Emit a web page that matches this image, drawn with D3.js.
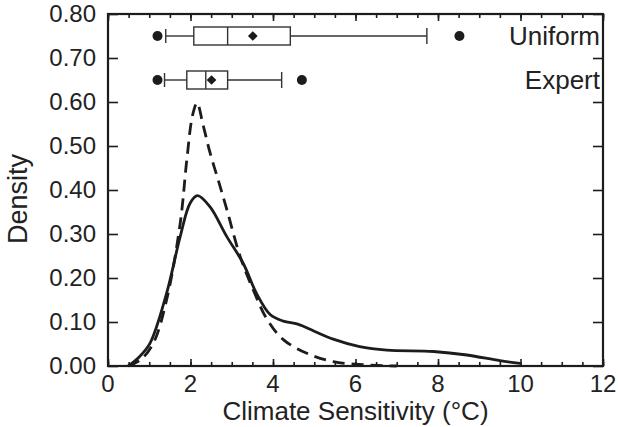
<!DOCTYPE html>
<html lang="en">
<head>
<meta charset="utf-8">
<title>Climate Sensitivity</title>
<style>
  body { margin: 0; background: #fff; }
  svg { display: block; }
  text { font-family: "Liberation Sans", Arial, sans-serif; fill: #222; }
</style>
<script src="https://cdn.jsdelivr.net/npm/d3@7"></script>
</head>
<body>
<script>
// density curves
var uniformX = [0.49, 0.75, 1.02, 1.42, 1.75, 1.99, 2.17, 2.47, 2.88, 3.28, 3.6, 3.93, 4.25, 4.6, 5.0, 5.46, 6.1, 6.76, 7.89, 8.7, 9.5, 9.99];
var uniformY = [0, 0.02, 0.052, 0.165, 0.294, 0.37, 0.387, 0.362, 0.294, 0.233, 0.165, 0.117, 0.102, 0.095, 0.079, 0.061, 0.044, 0.036, 0.033, 0.025, 0.012, 0.006];
var expertX = [0.49, 0.8, 1.1, 1.42, 1.75, 1.91, 2.05, 2.16, 2.3, 2.47, 2.68, 2.88, 3.2, 3.52, 3.85, 4.25, 4.82, 5.46, 6.2, 7.0];
var expertY = [0, 0.015, 0.052, 0.15, 0.324, 0.468, 0.57, 0.598, 0.55, 0.486, 0.42, 0.356, 0.25, 0.173, 0.107, 0.06, 0.029, 0.01, 0.003, 0];

// box plots (Uniform, Expert)
var boxNames = ["Uniform", "Expert"];
var boxRow = [0.75, 0.65];
var boxLow = [1.40, 1.37];
var boxQ1 = [2.08, 1.91];
var boxMed = [2.90, 2.37];
var boxMean = [3.51, 2.51];
var boxQ3 = [4.42, 2.90];
var boxHigh = [7.73, 4.21];
var boxOutLo = [1.20, 1.20];
var boxOutHi = [8.52, 4.70];

var xTicks = [0, 2, 4, 6, 8, 10, 12];
var yTicks = [0, 0.1, 0.2, 0.3, 0.4, 0.5, 0.6, 0.7, 0.8];

var width = 618, height = 427;
var m = {left: 108, right: 15, top: 14, bottom: 61};

var svg = d3.select("body").append("svg")
  .attr("width", width)
  .attr("height", height);

var x = d3.scaleLinear().domain([0, 12]).range([m.left, width - m.right]);
var y = d3.scaleLinear().domain([0, 0.8]).range([height - m.bottom, m.top]);

var ink = "#1c1c1c";

// minor x ticks every 0.5
var minor = d3.range(0, 12.01, 0.5);

function tickStyle(g) {
  g.select(".domain").remove();
  g.selectAll("line").attr("stroke", ink).attr("stroke-width", 1.6);
}

// bottom
svg.append("g")
  .attr("transform", "translate(0," + y(0) + ")")
  .call(d3.axisTop(x).tickValues(minor).tickSize(4).tickFormat(""))
  .call(tickStyle);
svg.append("g")
  .attr("transform", "translate(0," + y(0) + ")")
  .call(d3.axisTop(x).tickValues(xTicks).tickSize(7).tickFormat(""))
  .call(tickStyle);
// top
svg.append("g")
  .attr("transform", "translate(0," + y(0.8) + ")")
  .call(d3.axisBottom(x).tickValues(minor).tickSize(4).tickFormat(""))
  .call(tickStyle);
svg.append("g")
  .attr("transform", "translate(0," + y(0.8) + ")")
  .call(d3.axisBottom(x).tickValues(xTicks).tickSize(7).tickFormat(""))
  .call(tickStyle);
// left / right
svg.append("g")
  .attr("transform", "translate(" + x(0) + ",0)")
  .call(d3.axisRight(y).tickValues(yTicks).tickSize(10).tickFormat(""))
  .call(tickStyle);
svg.append("g")
  .attr("transform", "translate(" + x(12) + ",0)")
  .call(d3.axisLeft(y).tickValues(yTicks).tickSize(10).tickFormat(""))
  .call(tickStyle);

// tick labels
svg.append("g").selectAll("text")
  .data(xTicks).enter().append("text")
  .attr("x", function(d){ return x(d); })
  .attr("y", y(0) + 26)
  .attr("text-anchor", "middle")
  .style("font-size", "24px")
  .text(function(d){ return d; });

svg.append("g").selectAll("text")
  .data(yTicks).enter().append("text")
  .attr("x", x(0) - 12)
  .attr("y", function(d){ return y(d) + 8; })
  .attr("text-anchor", "end")
  .style("font-size", "24px")
  .text(function(d){ return d.toFixed(2); });

// axis titles
svg.append("text")
  .attr("x", (x(0) + x(12)) / 2)
  .attr("y", 420)
  .attr("text-anchor", "middle")
  .style("font-size", "26px")
  .text("Climate Sensitivity (°C)");

svg.append("text")
  .attr("transform", "translate(27,199) rotate(-90)")
  .attr("text-anchor", "middle")
  .style("font-size", "27px")
  .text("Density");

// curves
var line = d3.line()
  .x(function(d){ return x(d[0]); })
  .y(function(d){ return y(d[1]); })
  .curve(d3.curveCatmullRom.alpha(0.5));

svg.append("path")
  .datum(d3.zip(expertX, expertY))
  .attr("d", line)
  .attr("fill", "none")
  .attr("stroke", ink)
  .attr("stroke-width", 2.8)
  .attr("stroke-dasharray", "12,7");

svg.append("path")
  .datum(d3.zip(uniformX, uniformY))
  .attr("d", line)
  .attr("fill", "none")
  .attr("stroke", ink)
  .attr("stroke-width", 2.8);

// box plots
var bh = 18;
boxNames.forEach(function(name, i) {
  var cy = y(boxRow[i]);
  var g = svg.append("g");
  g.append("line")
    .attr("x1", x(boxLow[i])).attr("x2", x(boxQ1[i]))
    .attr("y1", cy).attr("y2", cy);
  g.append("line")
    .attr("x1", x(boxQ3[i])).attr("x2", x(boxHigh[i]))
    .attr("y1", cy).attr("y2", cy);
  g.append("line")
    .attr("x1", x(boxLow[i])).attr("x2", x(boxLow[i]))
    .attr("y1", cy - bh / 2 + 2).attr("y2", cy + bh / 2 - 2);
  g.append("line")
    .attr("x1", x(boxHigh[i])).attr("x2", x(boxHigh[i]))
    .attr("y1", cy - bh / 2 + 1).attr("y2", cy + bh / 2 - 1);
  g.append("rect")
    .attr("x", x(boxQ1[i])).attr("y", cy - bh / 2)
    .attr("width", x(boxQ3[i]) - x(boxQ1[i])).attr("height", bh)
    .attr("fill", "none");
  g.append("line")
    .attr("x1", x(boxMed[i])).attr("x2", x(boxMed[i]))
    .attr("y1", cy - bh / 2).attr("y2", cy + bh / 2);
  g.selectAll("line, rect").attr("stroke", "#333").attr("stroke-width", 1.4);

  g.append("path")
    .attr("d", d3.symbol(d3.symbolDiamond2, 60)())
    .attr("transform", "translate(" + x(boxMean[i]) + "," + cy + ")")
    .attr("fill", ink);

  g.selectAll("circle")
    .data([boxOutLo[i], boxOutHi[i]]).enter().append("circle")
    .attr("cx", function(d){ return x(d); })
    .attr("cy", cy)
    .attr("r", 5)
    .attr("fill", ink);

  g.append("text")
    .attr("x", x(12) - 3)
    .attr("y", cy + 9)
    .attr("text-anchor", "end")
    .style("font-size", "26px")
    .text(name);
});

// frame
svg.append("rect")
  .attr("x", x(0)).attr("y", y(0.8))
  .attr("width", x(12) - x(0)).attr("height", y(0) - y(0.8))
  .attr("fill", "none")
  .attr("stroke", ink)
  .attr("stroke-width", 2.2);
</script>
</body>
</html>
